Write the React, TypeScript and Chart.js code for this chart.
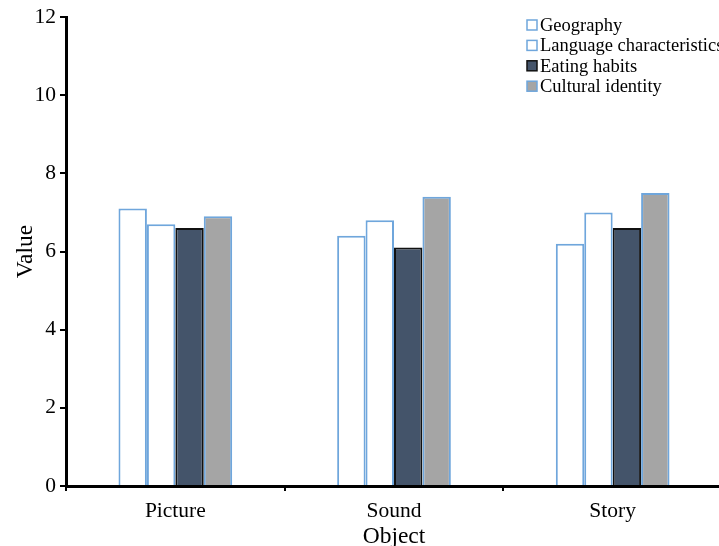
import React, { useEffect, useRef } from "react";
import { Chart, registerables } from "chart.js";

Chart.register(...registerables);

const categories = ["Picture", "Sound", "Story"];
const seriesNames = ["Geography", "Language characteristics", "Eating habits", "Cultural identity"];
const geography = [7.1, 6.4, 6.2];
const language = [6.7, 6.8, 7.0];
const eating = [6.6, 6.1, 6.6];
const cultural = [6.9, 7.4, 7.5];
const yTicks = [0, 2, 4, 6, 8, 10, 12];

const FONT = "'Liberation Serif', 'Times New Roman', serif";
const BLUE = "#6fa6dc";

const legendPlugin = {
  id: "insideLegend",
  afterDraw(chart: any) {
    const ctx = chart.ctx;
    ctx.save();
    ctx.font = `18.5px ${FONT}`;
    ctx.textBaseline = "middle";
    ctx.textAlign = "left";
    chart.data.datasets.forEach((ds: any, i: number) => {
      const y = 25 + i * 20.4;
      const x = 527;
      ctx.fillStyle = ds.backgroundColor;
      ctx.fillRect(x, y - 5, 10, 10);
      ctx.strokeStyle = ds.borderColor;
      ctx.lineWidth = 1.5;
      ctx.strokeRect(x, y - 5, 10, 10);
      ctx.fillStyle = "#000";
      ctx.fillText(ds.label, x + 13, y + 1);
    });
    ctx.restore();
  },
};

export default function App() {
  const ref = useRef<HTMLCanvasElement>(null);
  useEffect(() => {
    if (!ref.current) return;
    const values = [geography, language, eating, cultural];
    const fills = ["#ffffff", "#ffffff", "#44546a", "#a5a5a5"];
    const borders = [BLUE, BLUE, "#111111", BLUE];
    const chart = new Chart(ref.current, {
      type: "bar",
      data: {
        labels: categories,
        datasets: seriesNames.map((name, i) => ({
          label: name,
          data: values[i],
          backgroundColor: fills[i],
          borderColor: borders[i],
          borderWidth: 2,
          categoryPercentage: 0.52,
          barPercentage: 1.0,
        })),
      },
      options: {
        responsive: false,
        animation: false,
        layout: { padding: { left: 0, right: 8, top: 17, bottom: 0 } },
        plugins: { legend: { display: false }, tooltip: { enabled: false } },
        scales: {
          x: {
            offset: true,
            grid: {
              display: true,
              offset: true,
              drawOnChartArea: false,
              drawTicks: true,
              tickLength: 5,
              color: "#000",
              lineWidth: 2,
            },
            border: { display: true, color: "#000", width: 3 },
            ticks: { color: "#000", font: { family: FONT, size: 21.5 }, padding: 7 },
            title: {
              display: true,
              text: "Object",
              color: "#000",
              font: { family: FONT, size: 23.5, lineHeight: 1 },
              padding: { top: 0, bottom: -3 },
            },
            afterFit(scale: any) {
              scale.height = 60;
            },
          },
          y: {
            min: 0,
            max: 12,
            afterBuildTicks(scale: any) {
              scale.ticks = yTicks.map((v) => ({ value: v }));
            },
            grid: {
              display: true,
              drawOnChartArea: false,
              drawTicks: true,
              tickLength: 6,
              color: "#000",
              lineWidth: 2,
            },
            border: { display: true, color: "#000", width: 3 },
            ticks: { color: "#000", font: { family: FONT, size: 21.5 }, padding: 4 },
            title: {
              display: true,
              text: "Value",
              color: "#000",
              font: { family: FONT, size: 23.5 },
              padding: { top: 11.5, bottom: 0 },
            },
            afterFit(scale: any) {
              scale.width = 66;
            },
          },
        },
      },
      plugins: [legendPlugin],
    });
    return () => chart.destroy();
  }, []);
  return (
    <div
      style={{
        position: "fixed",
        left: 0,
        top: 0,
        width: 719,
        height: 546,
        overflow: "hidden",
        background: "#fff",
      }}
    >
      <canvas ref={ref} width={730} height={546} style={{ display: "block" }} />
    </div>
  );
}
